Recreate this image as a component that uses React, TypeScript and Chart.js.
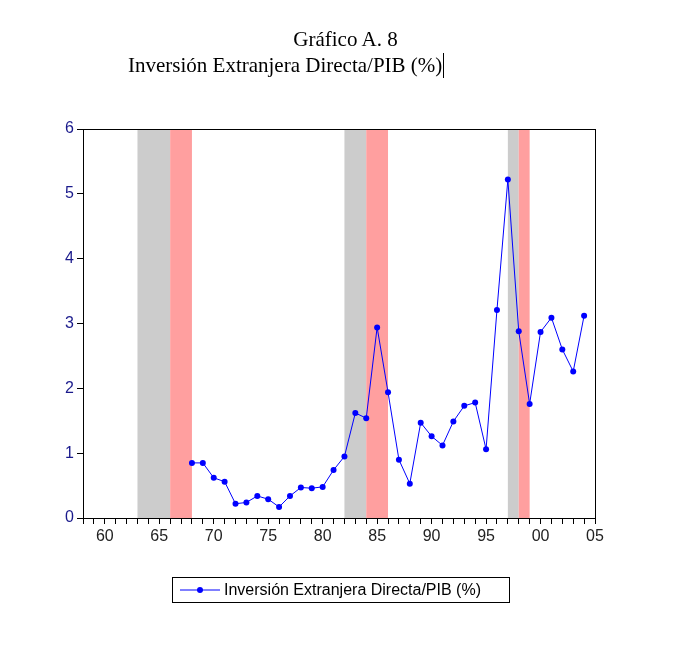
import React, { useEffect, useRef } from "react";
import { Chart, registerables } from "chart.js";
Chart.register(...registerables);

const years = [1968,1969,1970,1971,1972,1973,1974,1975,1976,1977,1978,1979,1980,1981,1982,1983,1984,1985,1986,1987,1988,1989,1990,1991,1992,1993,1994,1995,1996,1997,1998,1999,2000,2001,2002,2003,2004];
const ied = [0.85,0.85,0.62,0.56,0.22,0.24,0.34,0.29,0.17,0.34,0.47,0.46,0.48,0.74,0.95,1.62,1.54,2.94,1.94,0.90,0.53,1.47,1.26,1.12,1.49,1.73,1.78,1.06,3.21,5.22,2.88,1.76,2.87,3.09,2.60,2.26,3.12];
const grayBands: [number, number][] = [[1963,1966],[1982,1984],[1997,1998]];
const redBands: [number, number][] = [[1966,1968],[1984,1986],[1998,1999]];
const seriesLabel = "Inversión Extranjera Directa/PIB (%)";

const bandsPlugin = {
  id: "bands",
  beforeDatasetsDraw(chart: any) {
    const { ctx, chartArea, scales } = chart;
    const x = scales.x;
    ctx.save();
    const draw = (bands: [number, number][], color: string) => {
      ctx.fillStyle = color;
      for (const [a, b] of bands) {
        const x0 = x.getPixelForValue(a), x1 = x.getPixelForValue(b);
        ctx.fillRect(x0, chartArea.top, x1 - x0, chartArea.bottom - chartArea.top);
      }
    };
    draw(grayBands, "#cccccc");
    draw(redBands, "#ff9f9f");
    ctx.restore();
  },
  afterDraw(chart: any) {
    const { ctx, chartArea } = chart;
    ctx.save();
    ctx.strokeStyle = "#000";
    ctx.lineWidth = 1;
    ctx.strokeRect(Math.round(chartArea.left) + 0.5, Math.round(chartArea.top) + 0.5, Math.round(chartArea.right - chartArea.left), Math.round(chartArea.bottom - chartArea.top));
    ctx.restore();
  },
};

export default function App() {
  const ref = useRef<HTMLCanvasElement>(null);
  useEffect(() => {
    const chart = new Chart(ref.current!, {
      type: "line",
      data: {
        datasets: [{
          label: seriesLabel,
          data: years.map((y, i) => ({ x: y, y: ied[i] })),
          borderColor: "#0000ff",
          backgroundColor: "#0000ff",
          borderWidth: 1,
          pointRadius: 3,
          pointBorderWidth: 0,
          tension: 0,
        }],
      },
      options: {
        animation: false,
        responsive: false,
        layout: { padding: { left: 0, right: 96, top: 129, bottom: 98 } },
        plugins: { legend: { display: false }, tooltip: { enabled: false } },
        scales: {
          x: {
            type: "linear", min: 1958, max: 2005,
            afterFit: (s: any) => { s.height = 30; },
            grid: { drawOnChartArea: false, tickLength: 6, color: "#000" },
            border: { color: "#000" },
            ticks: {
              stepSize: 1, autoSkip: false, maxRotation: 0,
              color: "#222", font: { family: "Liberation Sans, Arial", size: 16 },
              callback: (v: any) => (v % 5 === 0 ? String(v % 100).padStart(2, "0") : ""),
            },
          },
          y: {
            min: 0, max: 6,
            afterFit: (s: any) => { s.width = 83; },
            grid: { drawOnChartArea: false, tickLength: 6, color: "#000" },
            border: { color: "#000" },
            ticks: { stepSize: 1, color: "#1a1a8c", font: { family: "Liberation Sans, Arial", size: 16 } },
          },
        },
      },
      plugins: [bandsPlugin],
    });
    return () => chart.destroy();
  }, []);
  return (
    <div style={{ position: "absolute", left: 0, top: 0, width: 691, height: 646, background: "#fff" }}>
      <canvas ref={ref} width={691} height={646} style={{ position: "absolute", left: 0, top: 0 }} />
      <div style={{ position: "absolute", top: 27, left: 0, width: 691, textAlign: "center", fontFamily: "Liberation Serif, serif", fontSize: 21 }}>Gráfico A. 8</div>
      <div style={{ position: "absolute", top: 53, left: 128, fontFamily: "Liberation Serif, serif", fontSize: 21, borderRight: "1px solid #000", paddingRight: 1 }}>Inversión Extranjera Directa/PIB (%)</div>
      <div style={{ position: "absolute", left: 172, top: 577, width: 338, height: 26, border: "1px solid #000", boxSizing: "border-box", display: "flex", alignItems: "center", fontFamily: "Liberation Sans, Arial", fontSize: 16 }}>
        <svg width={46} height={10} style={{ marginLeft: 5 }}>
          <line x1={2} y1={5} x2={42} y2={5} stroke="#0000ff" strokeWidth={1} />
          <circle cx={22} cy={5} r={3} fill="#0000ff" />
        </svg>
        <span>{seriesLabel}</span>
      </div>
    </div>
  );
}
